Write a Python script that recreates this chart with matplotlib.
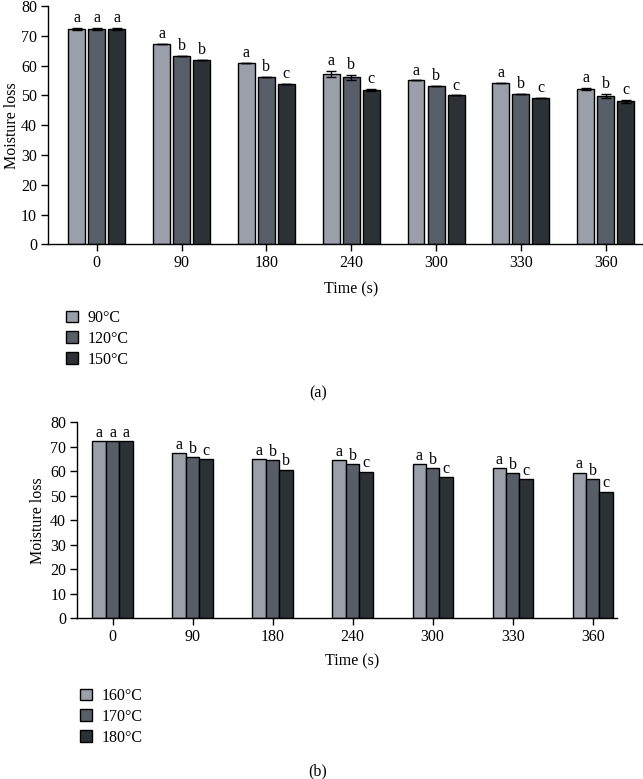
import numpy as np
import matplotlib
matplotlib.use("Agg")
import matplotlib.pyplot as plt
from matplotlib.patches import Patch

plt.rcParams['font.family'] = ['Liberation Serif', 'DejaVu Serif']

times = ['0', '90', '180', '240', '300', '330', '360']

# panel (a)
temps_a = ['90°C', '120°C', '150°C']
a_90 = [72.3, 67.3, 60.9, 57.2, 55.0, 54.2, 52.2]
a_120 = [72.3, 63.2, 56.2, 56.0, 53.3, 50.4, 49.8]
a_150 = [72.3, 61.8, 53.9, 51.9, 50.0, 49.1, 48.0]
a_90_err = [0.4, 0.0, 0.0, 0.9, 0.0, 0.0, 0.3]
a_120_err = [0.4, 0.0, 0.0, 0.8, 0.0, 0.0, 0.8]
a_150_err = [0.4, 0.0, 0.0, 0.3, 0.0, 0.0, 0.5]
a_letters = [['a', 'a', 'a', 'a', 'a', 'a', 'a'],
             ['a', 'b', 'b', 'b', 'b', 'b', 'b'],
             ['a', 'b', 'c', 'c', 'c', 'c', 'c']]

# panel (b)
temps_b = ['160°C', '170°C', '180°C']
b_160 = [72.4, 67.4, 64.8, 64.4, 62.8, 61.3, 59.4]
b_170 = [72.4, 65.9, 64.6, 62.8, 61.4, 59.1, 56.8]
b_180 = [72.4, 65.0, 60.7, 59.8, 57.7, 56.9, 51.7]
b_letters = [['a', 'a', 'a', 'a', 'a', 'a', 'a'],
             ['a', 'b', 'b', 'b', 'b', 'b', 'b'],
             ['a', 'c', 'b', 'c', 'c', 'c', 'c']]

colors = ['#9a9fa9', '#575e68', '#2b3135']
FS = 11.5

fig = plt.figure(figsize=(6.43, 7.79), dpi=100)


def panel(ax, series, errs, letters, width, pitch, gap):
  x = np.arange(len(times))
  for i, vals in enumerate(series):
    pos = x + (i - 1) * pitch
    ax.bar(pos, vals, width=width, color=colors[i], edgecolor='black', linewidth=1.0, zorder=2)
    if errs is not None:
      ax.errorbar(pos, vals, yerr=errs[i], fmt='none', ecolor='black', elinewidth=1.0,
                  capsize=3.5, capthick=1.0, zorder=3)
    for j, v in enumerate(vals):
      top = v + (errs[i][j] if errs is not None else 0)
      ax.text(pos[j], top + gap, letters[i][j], ha='center', va='bottom', fontsize=FS)
  ax.set_ylim(0, 80)
  ax.set_yticks(range(0, 81, 10))
  ax.set_xticks(x)
  ax.set_xticklabels(times)
  ax.spines['top'].set_visible(False)
  ax.spines['right'].set_visible(False)
  ax.tick_params(labelsize=FS, direction='out', length=5, width=1, pad=3)
  for s in ax.spines.values():
    s.set_linewidth(1.0)


ax1 = fig.add_axes([0.0747, 0.6864, 0.924, 0.3059])
panel(ax1, [a_90, a_120, a_150], [a_90_err, a_120_err, a_150_err], a_letters,
      0.2, 0.236, 0.6)
ax1.set_xlim(-0.574, 6.43)
ax1.set_ylabel('Moisture loss', fontsize=FS, labelpad=1)

ax2 = fig.add_axes([0.1202, 0.2067, 0.839, 0.2512])
panel(ax2, [b_160, b_170, b_180], None, b_letters, 0.168, 0.168, 0.1)
ax2.set_xlim(-0.44, 6.3)
ax2.set_ylabel('Moisture loss', fontsize=FS, labelpad=3)

fig.text(351 / 643, 1 - 289 / 779, 'Time (s)', ha='center', va='center', fontsize=FS)
fig.text(352 / 643, 1 - 661 / 779, 'Time (s)', ha='center', va='center', fontsize=FS)
fig.text(318 / 643, 1 - 393 / 779, '(a)', ha='center', va='center', fontsize=FS)
fig.text(318 / 643, 1 - 771 / 779, '(b)', ha='center', va='center', fontsize=FS)

h_a = [Patch(facecolor=c, edgecolor='black', linewidth=1.0) for c in colors]
fig.legend(h_a, temps_a, loc='upper left', bbox_to_anchor=(66 / 643, 1 - 310 / 779),
           frameon=False, fontsize=FS, handlelength=0.75, handleheight=0.75,
           handletextpad=0.6, labelspacing=0.3, borderpad=0, borderaxespad=0)
h_b = [Patch(facecolor=c, edgecolor='black', linewidth=1.0) for c in colors]
fig.legend(h_b, temps_b, loc='upper left', bbox_to_anchor=(80 / 643, 1 - 688 / 779),
           frameon=False, fontsize=FS, handlelength=0.75, handleheight=0.75,
           handletextpad=0.6, labelspacing=0.3, borderpad=0, borderaxespad=0)

fig.savefig('out.png', dpi=100)
